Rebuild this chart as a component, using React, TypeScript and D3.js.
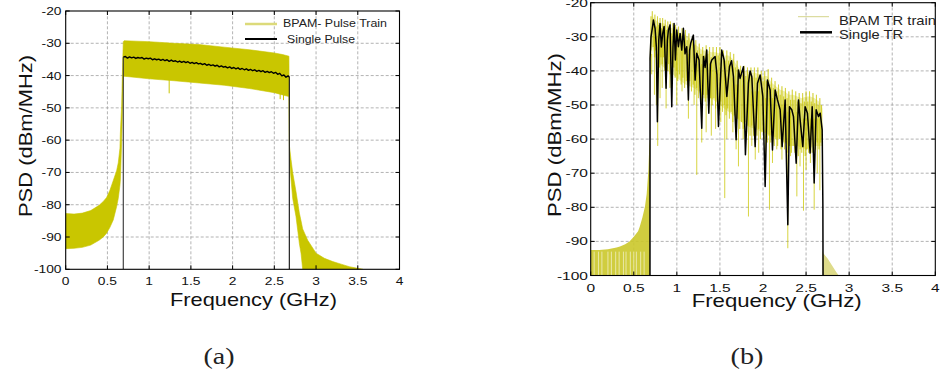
import React from "react";
import * as d3 from "d3";

// ---------- shared axis data ----------
const xTicks = [0, 0.5, 1, 1.5, 2, 2.5, 3, 3.5, 4];
const xTickLabels = ["0", "0.5", "1", "1.5", "2", "2.5", "3", "3.5", "4"];
const yTicks = [-20, -30, -40, -50, -60, -70, -80, -90, -100];
const yTickLabels = ["-20", "-30", "-40", "-50", "-60", "-70", "-80", "-90", "-100"];

// ---------- panel (a): BPAM pulse train (yellow band) ----------
const aBandF = [0, 0.1, 0.2, 0.3, 0.4, 0.45, 0.49, 0.53, 0.57, 0.61, 0.63, 0.65, 0.655, 0.67, 0.683, 0.69, 0.7, 1.0, 1.3, 1.6, 1.9, 2.2, 2.5, 2.6, 2.675, 2.682, 2.7, 2.72, 2.76, 2.8, 2.82, 2.84, 2.9, 3.0, 3.1, 3.2, 3.3, 3.4, 3.5, 3.56];
const aBandHi = [-82.7, -82.9, -82.6, -81.8, -80.2, -79, -77.8, -75.5, -72.5, -69.5, -67, -62.5, -57.8, -49.5, -36, -29.5, -29.2, -29.5, -30, -30.4, -31.2, -32, -33, -33.5, -34, -62, -66, -70, -76, -82.6, -85, -87.5, -91, -95, -96.6, -97.6, -98.4, -99.2, -99.7, -100];
const aBandLo = [-93.6, -93.5, -93.2, -92.5, -91, -90, -88.8, -87, -84.7, -80.6, -78, -74, -72.3, -60.9, -47.4, -40.5, -40.2, -41, -41.6, -42.3, -43, -44, -45.3, -46, -46.5, -66, -72, -78, -83.7, -92, -95, -100, -100, -100, -100, -100, -100, -100, -100, -100];
const aSpikeF = [1.24, 2.57, 2.61];
const aSpikeTop = [-41, -45, -45];
const aSpikeBottom = [-45.5, -47.3, -47.6];

// ---------- panel (a): single pulse (black) ----------
const aPulseF = [0.69, 0.715, 0.74, 0.765, 0.79, 0.815, 0.84, 0.865, 0.89, 0.915, 0.94, 0.965, 0.99, 1.015, 1.04, 1.065, 1.09, 1.115, 1.14, 1.165, 1.19, 1.215, 1.24, 1.265, 1.29, 1.315, 1.34, 1.365, 1.39, 1.415, 1.44, 1.465, 1.49, 1.515, 1.54, 1.565, 1.59, 1.615, 1.64, 1.665, 1.69, 1.715, 1.74, 1.765, 1.79, 1.815, 1.84, 1.865, 1.89, 1.915, 1.94, 1.965, 1.99, 2.015, 2.04, 2.065, 2.09, 2.115, 2.14, 2.165, 2.19, 2.215, 2.24, 2.265, 2.29, 2.315, 2.34, 2.365, 2.39, 2.415, 2.44, 2.465, 2.49, 2.515, 2.54, 2.565, 2.59, 2.615, 2.64, 2.665, 2.68];
const aPulseV = [-34.3, -34.1, -34.6, -34.2, -34.5, -34.3, -34.7, -34.4, -34.6, -34.4, -34.9, -34.6, -34.8, -34.6, -35.1, -34.8, -35.1, -34.9, -35.3, -35.0, -35.4, -35.1, -35.6, -35.2, -35.6, -35.4, -35.8, -35.5, -35.9, -35.6, -36.0, -35.7, -36.2, -35.9, -36.3, -36.0, -36.4, -36.2, -36.6, -36.3, -36.8, -36.5, -36.9, -36.7, -37.1, -36.8, -37.3, -37.0, -37.4, -37.2, -37.6, -37.3, -37.8, -37.5, -37.9, -37.6, -38.1, -37.8, -38.2, -37.9, -38.4, -38.1, -38.5, -38.2, -38.7, -38.4, -38.8, -38.5, -39.0, -38.7, -39.1, -38.8, -39.3, -39.0, -39.6, -39.3, -40.1, -39.8, -40.5, -40.1, -40.4];

// ---------- panel (b): BPAM TR train (yellow) ----------
const bLowF = [0, 0.1, 0.2, 0.3, 0.34, 0.4, 0.45, 0.5, 0.55, 0.57, 0.6, 0.63, 0.65, 0.67, 0.68, 0.688];
const bLowHi = [-92.5, -92.5, -92.3, -91.8, -91.5, -90.8, -90, -88.6, -87, -85.6, -83, -79.8, -76, -69, -62, -60];
const bStripeF = [0.04, 0.09, 0.13, 0.2, 0.24, 0.29, 0.33, 0.38, 0.41, 0.46, 0.5, 0.53, 0.58, 0.62];
const bTailF = [2.69, 2.7, 2.75, 2.8, 2.85, 2.88];
const bTailHi = [-92.5, -93.5, -95, -97, -99, -100];
const bBandF = [0.69, 0.72, 0.75, 0.8, 0.85, 0.9, 0.95, 1.0, 1.05, 1.1, 1.15, 1.2, 1.25, 1.3, 1.35, 1.4, 1.45, 1.5, 1.55, 1.6, 1.65, 1.7, 1.75, 1.8, 1.85, 1.9, 1.95, 2.0, 2.05, 2.1, 2.15, 2.2, 2.25, 2.3, 2.35, 2.4, 2.45, 2.5, 2.55, 2.6, 2.65, 2.69];
const bBandHi = [-37, -24, -25, -26, -26, -27, -27.5, -28.5, -29, -29.5, -30.5, -32, -33, -34, -34, -34.5, -34.5, -35, -35.5, -35.5, -36.5, -38.5, -40, -40, -40.5, -40.5, -41, -41.5, -41.5, -43.5, -44.5, -45.5, -46, -47, -47, -47.5, -48, -47.5, -47.5, -48, -49, -51];
const bBandLo = [-40, -33, -36, -38, -39, -40, -41, -42, -43, -44, -44.5, -45, -46, -48, -48, -48, -49, -50, -51, -52, -53, -54, -55, -56, -56.5, -57, -57.5, -58, -58.5, -59, -59.5, -60, -61, -62, -62, -62, -62.5, -63, -62.5, -62, -62, -62];
const bPeakF = [0.69, 0.70, 0.715, 0.73, 0.745, 0.76, 0.775, 0.79, 0.805, 0.82, 0.835, 0.85, 0.865, 0.88, 0.895, 0.91, 0.925, 0.94, 0.955, 0.97, 0.985, 1.0, 1.02, 1.04, 1.06, 1.08, 1.10, 1.12, 1.14, 1.16, 1.18, 1.20, 1.22, 1.24, 1.26, 1.28, 1.30, 1.32, 1.34, 1.36, 1.38, 1.40, 1.42, 1.44, 1.46, 1.48, 1.50, 1.52, 1.54, 1.56, 1.58, 1.60, 1.62, 1.64, 1.66, 1.68, 1.70, 1.72, 1.74, 1.76, 1.78, 1.80, 1.82, 1.84, 1.86, 1.88, 1.90, 1.92, 1.94, 1.96, 1.98, 2.00, 2.02, 2.04, 2.06, 2.08, 2.10, 2.12, 2.14, 2.16, 2.18, 2.20, 2.22, 2.24, 2.26, 2.28, 2.30, 2.32, 2.34, 2.36, 2.38, 2.40, 2.42, 2.44, 2.46, 2.48, 2.50, 2.52, 2.54, 2.56, 2.58, 2.60, 2.62, 2.64, 2.66, 2.68];
const bPeakV = [-37, -24, -22.5, -26, -23.5, -27, -24, -26.5, -24.5, -27.5, -24.5, -27, -25, -28, -25.5, -27.5, -25.5, -29, -26, -28.5, -26.5, -29.5, -27, -30, -27.5, -30, -28, -31, -29, -32, -30, -32.5, -31, -34, -32, -35, -33, -35.5, -32.5, -35, -33, -36, -33, -36, -33, -35.5, -33, -36.5, -34, -37, -34, -37, -34.5, -38, -35, -39, -37, -40, -38.5, -41, -38.5, -41.5, -39, -41, -39, -42, -39, -42, -39, -42.5, -40, -43, -40, -43, -39.5, -44, -42, -45, -43, -46, -44, -47, -44.5, -47.5, -45, -48, -46, -48.5, -45.5, -48.5, -46, -49, -46.5, -49.5, -46.5, -49, -46, -49, -46, -49, -46.5, -49.5, -47, -50, -48, -50];
const bTroughF = [0.70, 0.725, 0.74, 0.755, 0.77, 0.785, 0.80, 0.815, 0.83, 0.845, 0.86, 0.875, 0.89, 0.905, 0.92, 0.935, 0.95, 0.965, 0.98, 0.995, 1.01, 1.03, 1.05, 1.07, 1.09, 1.11, 1.13, 1.15, 1.17, 1.19, 1.21, 1.23, 1.25, 1.27, 1.29, 1.31, 1.33, 1.35, 1.37, 1.39, 1.41, 1.43, 1.45, 1.47, 1.49, 1.51, 1.53, 1.55, 1.57, 1.59, 1.61, 1.63, 1.65, 1.67, 1.69, 1.71, 1.73, 1.75, 1.77, 1.79, 1.81, 1.83, 1.85, 1.87, 1.89, 1.91, 1.93, 1.95, 1.97, 1.99, 2.01, 2.03, 2.05, 2.07, 2.09, 2.11, 2.13, 2.15, 2.17, 2.19, 2.21, 2.23, 2.25, 2.27, 2.29, 2.31, 2.33, 2.35, 2.37, 2.39, 2.41, 2.43, 2.45, 2.47, 2.49, 2.51, 2.53, 2.55, 2.57, 2.59, 2.61, 2.63, 2.65, 2.67, 2.685];
const bTroughV = [-34, -33, -36, -34, -38, -35, -39, -36, -38, -36, -40, -37, -40, -38, -41, -38, -41, -39, -42, -40, -43, -41, -44, -42, -45, -43, -45, -43, -46, -44, -47, -45, -48, -46, -49, -47, -49, -47, -50, -48, -50, -48, -51, -49, -51, -49, -52, -50, -53, -51, -54, -52, -55, -53, -56, -54, -57, -55, -57, -55, -58, -56, -59, -56, -59, -57, -59, -57, -60, -58, -60, -58, -61, -59, -61, -59, -62, -60, -62, -60, -63, -61, -63, -61, -64, -62, -64, -62, -64, -62, -65, -63, -64, -62, -65, -63, -64, -62, -64, -62, -63, -61, -63, -61, -60];
const bDipF = [0.708, 0.74, 0.762, 0.778, 0.805, 0.83, 0.875, 0.92, 0.999, 1.06, 1.134, 1.2, 1.231, 1.289, 1.34, 1.4, 1.45, 1.51, 1.556, 1.58, 1.65, 1.688, 1.715, 1.77, 1.831, 1.87, 1.91, 1.95, 2.03, 2.075, 2.11, 2.16, 2.22, 2.288, 2.32, 2.393, 2.43, 2.47, 2.5, 2.55, 2.594, 2.63, 2.66];
const bDipTop = [-35, -30, -30, -35, -30, -30, -30, -30, -32, -32, -35, -35, -38, -38, -38, -38, -40, -40, -40, -42, -42, -44, -44, -44, -46, -46, -46, -46, -48, -48, -48, -50, -50, -52, -52, -52, -54, -54, -54, -54, -54, -54, -54];
const bDipBottom = [-41, -47, -50, -62, -48, -45, -51, -45, -50, -46, -54, -50, -70.5, -61, -58, -59, -57, -55, -77.3, -60, -58, -63, -68, -60, -82.7, -62, -66, -64, -72, -80.7, -67, -63, -66, -92, -65, -76.8, -68, -81, -69, -67, -80.7, -70, -75];

// ---------- panel (b): single TR (black) ----------
const bTrF = [0.688, 0.689, 0.70, 0.715, 0.728, 0.747, 0.762, 0.774, 0.79, 0.805, 0.82, 0.836, 0.852, 0.875, 0.89, 0.902, 0.921, 0.941, 0.955, 0.968, 0.983, 0.999, 1.018, 1.038, 1.057, 1.076, 1.095, 1.115, 1.134, 1.148, 1.161, 1.192, 1.212, 1.231, 1.258, 1.289, 1.309, 1.328, 1.347, 1.371, 1.39, 1.405, 1.444, 1.465, 1.483, 1.521, 1.549, 1.58, 1.611, 1.635, 1.657, 1.688, 1.715, 1.734, 1.773, 1.796, 1.831, 1.85, 1.87, 1.909, 1.936, 1.967, 1.998, 2.025, 2.052, 2.083, 2.11, 2.141, 2.168, 2.199, 2.222, 2.257, 2.288, 2.307, 2.334, 2.354, 2.385, 2.412, 2.431, 2.462, 2.489, 2.516, 2.547, 2.571, 2.594, 2.617, 2.644, 2.664, 2.687, 2.695, 2.697];
const bTrV = [-100, -36.3, -30, -27.5, -25.1, -27.5, -33, -54.9, -31, -26.1, -33, -29.0, -27.0, -45.1, -31, -28.0, -26.5, -50.5, -33, -26.1, -36.8, -28.0, -32.9, -29.0, -33.9, -27.5, -35, -32.9, -48.5, -34, -31.9, -29.5, -42.7, -34.8, -36.8, -56.8, -35.8, -39, -33.9, -52.4, -38, -36.8, -35.8, -41, -56.3, -33.9, -36.8, -47.5, -38.8, -37, -41.7, -60.2, -39.7, -42.2, -38.8, -64.6, -43.6, -40, -41.7, -62.2, -43.6, -41.2, -47.5, -73.9, -42.7, -45.6, -63.2, -45.6, -48.5, -51.4, -62.2, -48.5, -85.1, -50.5, -51.4, -53.4, -67.1, -48.5, -54.4, -62.2, -50.5, -52.4, -64.1, -50.5, -72.9, -51.4, -53.4, -52.4, -57.3, -79.3, -100];

const FONT = "'Liberation Sans', Arial, Helvetica, sans-serif";
const SERIF = "'Liberation Serif', 'DejaVu Serif', serif";

type Box = { x0: number; x1: number; yb: number; yt: number };

function Grid({ box, sx, sy }: { box: Box; sx: any; sy: any }) {
  return (
    <g>
      {xTicks.slice(1, -1).map((t) => (
        <line key={"gx" + t} x1={sx(t)} x2={sx(t)} y1={box.yb} y2={box.yt} stroke="#a0a0a0" strokeWidth={0.8} strokeDasharray="3 2" />
      ))}
      {yTicks.slice(1, -1).map((t) => (
        <line key={"gy" + t} x1={box.x0} x2={box.x1} y1={sy(t)} y2={sy(t)} stroke="#a0a0a0" strokeWidth={0.8} strokeDasharray="3 2" />
      ))}
    </g>
  );
}

function Frame({ box, sx, sy, xLabY, yLabX, scaleX }: { box: Box; sx: any; sy: any; xLabY: number; yLabX: number; scaleX: number }) {
  return (
    <g>
      {xTicks.map((t) => (
        <g key={"tx" + t}>
          <line x1={sx(t)} x2={sx(t)} y1={box.yb} y2={box.yb - 4} stroke="#000" strokeWidth={1} />
          <line x1={sx(t)} x2={sx(t)} y1={box.yt} y2={box.yt + 4} stroke="#000" strokeWidth={1} />
        </g>
      ))}
      {yTicks.map((t) => (
        <g key={"ty" + t}>
          <line x1={box.x0} x2={box.x0 + 4} y1={sy(t)} y2={sy(t)} stroke="#000" strokeWidth={1} />
          <line x1={box.x1} x2={box.x1 - 4} y1={sy(t)} y2={sy(t)} stroke="#000" strokeWidth={1} />
        </g>
      ))}
      <rect x={box.x0} y={box.yt} width={box.x1 - box.x0} height={box.yb - box.yt} fill="none" stroke="#000" strokeWidth={1.1} />
      {xTicks.map((t, i) => (
        <text key={"lx" + t} transform={`translate(${sx(t)},${xLabY}) scale(${scaleX},1)`} textAnchor="middle" fontSize={11.5} fontFamily={FONT} fill="#111">
          {xTickLabels[i]}
        </text>
      ))}
      {yTicks.map((t, i) => (
        <text key={"ly" + t} transform={`translate(${yLabX},${sy(t) + 4}) scale(${scaleX},1)`} textAnchor="end" fontSize={11.5} fontFamily={FONT} fill="#111">
          {yTickLabels[i]}
        </text>
      ))}
    </g>
  );
}

export default function App() {
  const A: Box = { x0: 65.7, x1: 399.5, yb: 269.3, yt: 11 };
  const B: Box = { x0: 590.7, x1: 935.3, yb: 275.5, yt: 2.7 };
  const sxA = d3.scaleLinear().domain([0, 4]).range([A.x0, A.x1]);
  const syA = d3.scaleLinear().domain([-100, -20]).range([A.yb, A.yt]);
  const sxB = d3.scaleLinear().domain([0, 4]).range([B.x0, B.x1]);
  const syB = d3.scaleLinear().domain([-100, -20]).range([B.yb, B.yt]);

  const YEL = "#c9c600";

  const bandA = d3.area<number>().x((i) => sxA(aBandF[i])).y0((i) => syA(aBandLo[i])).y1((i) => syA(aBandHi[i]))(aBandF.map((_, i) => i));
  const pulseA = d3.line<number>().x((i) => sxA(aPulseF[i])).y((i) => syA(aPulseV[i]))(aPulseF.map((_, i) => i));
  const nP = aPulseF.length;

  const lowB = d3.area<number>().x((i) => sxB(bLowF[i])).y0(syB(-100)).y1((i) => syB(bLowHi[i]))(bLowF.map((_, i) => i));
  const tailB = d3.area<number>().x((i) => sxB(bTailF[i])).y0(syB(-100)).y1((i) => syB(bTailHi[i]))(bTailF.map((_, i) => i));
  const bandB = d3.area<number>().x((i) => sxB(bBandF[i])).y0((i) => syB(bBandLo[i])).y1((i) => syB(bBandHi[i]))(bBandF.map((_, i) => i));
  const yelPts: [number, number][] = [
    ...bPeakF.map((f, i) => [f, bPeakV[i]] as [number, number]),
    ...bTroughF.map((f, i) => [f, bTroughV[i]] as [number, number]),
  ].sort((p, q) => p[0] - q[0]);
  const yelB = d3.line<[number, number]>().x((p) => sxB(p[0])).y((p) => syB(p[1]))(yelPts);
  const trB = d3.line<number>().x((i) => sxB(bTrF[i])).y((i) => syB(bTrV[i]))(bTrF.map((_, i) => i));

  return (
    <svg width={941} height={378} style={{ position: "absolute", left: 0, top: 0, background: "#fff" }}>
      <defs>
        <clipPath id="clipA"><rect x={A.x0} y={A.yt} width={A.x1 - A.x0} height={A.yb - A.yt} /></clipPath>
        <clipPath id="clipB"><rect x={B.x0} y={B.yt} width={B.x1 - B.x0} height={B.yb - B.yt} /></clipPath>
      </defs>

      {/* ---------- panel (a) ---------- */}
      <Grid box={A} sx={sxA} sy={syA} />
      <g clipPath="url(#clipA)">
        <path d={bandA || ""} fill={YEL} stroke={YEL} strokeWidth={0.6} />
        {aSpikeF.map((f, i) => (
          <line key={"as" + i} x1={sxA(f)} x2={sxA(f)} y1={syA(aSpikeTop[i])} y2={syA(aSpikeBottom[i])} stroke={YEL} strokeWidth={1} />
        ))}
        <line x1={sxA(aPulseF[0])} x2={sxA(aPulseF[0])} y1={syA(-100)} y2={syA(aPulseV[0])} stroke="#333" strokeWidth={1.1} />
        <line x1={sxA(aPulseF[nP - 1])} x2={sxA(aPulseF[nP - 1])} y1={syA(-100)} y2={syA(aPulseV[nP - 1])} stroke="#222" strokeWidth={1.2} />
        <path d={pulseA || ""} fill="none" stroke="#000" strokeWidth={1.4} strokeLinejoin="round" />
      </g>
      <Frame box={A} sx={sxA} sy={syA} xLabY={285} yLabX={61.5} scaleX={1.2} />
      <line x1={245} x2={277} y1={24} y2={24} stroke="#dcda7a" strokeWidth={2.5} />
      <text x={283} y={27.3} fontSize={10.5} fontFamily={FONT} fill="#222" textLength={104} lengthAdjust="spacingAndGlyphs">BPAM- Pulse Train</text>
      <line x1={245} x2={277} y1={39} y2={39} stroke="#000" strokeWidth={2} />
      <text x={287} y={43.3} fontSize={10.5} fontFamily={FONT} fill="#222" textLength={68} lengthAdjust="spacingAndGlyphs">Single Pulse</text>
      <text x={253.5} y={306} textAnchor="middle" fontSize={18.5} fontFamily={FONT} fill="#111" textLength={167} lengthAdjust="spacingAndGlyphs">Frequency (GHz)</text>
      <text transform="translate(32,136) rotate(-90)" textAnchor="middle" fontSize={18.5} fontFamily={FONT} fill="#111" textLength={162} lengthAdjust="spacingAndGlyphs">PSD (dBm/MHz)</text>
      <text x={219} y={364} textAnchor="middle" fontSize={24} fontFamily={SERIF} fill="#222" textLength={31} lengthAdjust="spacingAndGlyphs">(a)</text>

      {/* ---------- panel (b) ---------- */}
      <Grid box={B} sx={sxB} sy={syB} />
      <g clipPath="url(#clipB)">
        <path d={lowB || ""} fill="#cbc82a" fillOpacity={0.9} stroke="none" />
        {bStripeF.map((f, i) => (
          <line key={"st" + i} x1={sxB(f)} x2={sxB(f)} y1={syB(-100)} y2={syB(-93)} stroke="#fff" strokeOpacity={0.55} strokeWidth={1} />
        ))}
        <path d={tailB || ""} fill="#dedb8a" stroke="none" />
        <path d={bandB || ""} fill={YEL} fillOpacity={0.3} stroke="none" />
        <path d={yelB || ""} fill="none" stroke={YEL} strokeOpacity={0.65} strokeWidth={0.8} />
        {bDipF.map((f, i) => (
          <line key={"bd" + i} x1={sxB(f)} x2={sxB(f)} y1={syB(bDipTop[i])} y2={syB(bDipBottom[i])} stroke={YEL} strokeOpacity={0.75} strokeWidth={1} />
        ))}
        <path d={trB || ""} fill="none" stroke="#000" strokeWidth={1.5} strokeLinejoin="round" />
      </g>
      <Frame box={B} sx={sxB} sy={syB} xLabY={292} yLabX={588} scaleX={1.35} />
      <line x1={798} x2={829} y1={16.7} y2={16.7} stroke="#d4d48a" strokeWidth={1} />
      <text x={839} y={25} fontSize={13} fontFamily={FONT} fill="#222" textLength={97} lengthAdjust="spacingAndGlyphs">BPAM TR train</text>
      <line x1={800} x2={832} y1={32.3} y2={32.3} stroke="#000" strokeWidth={2.5} />
      <text x={839} y={39.3} fontSize={13} fontFamily={FONT} fill="#222" textLength={64} lengthAdjust="spacingAndGlyphs">Single TR</text>
      <text x={776.7} y={307} textAnchor="middle" fontSize={18.5} fontFamily={FONT} fill="#111" textLength={170} lengthAdjust="spacingAndGlyphs">Frequency (GHz)</text>
      <text transform="translate(561,135) rotate(-90)" textAnchor="middle" fontSize={18.5} fontFamily={FONT} fill="#111" textLength={164} lengthAdjust="spacingAndGlyphs">PSD (dBm/MHz)</text>
      <text x={747} y={364} textAnchor="middle" fontSize={24} fontFamily={SERIF} fill="#222" textLength={33} lengthAdjust="spacingAndGlyphs">(b)</text>
    </svg>
  );
}
